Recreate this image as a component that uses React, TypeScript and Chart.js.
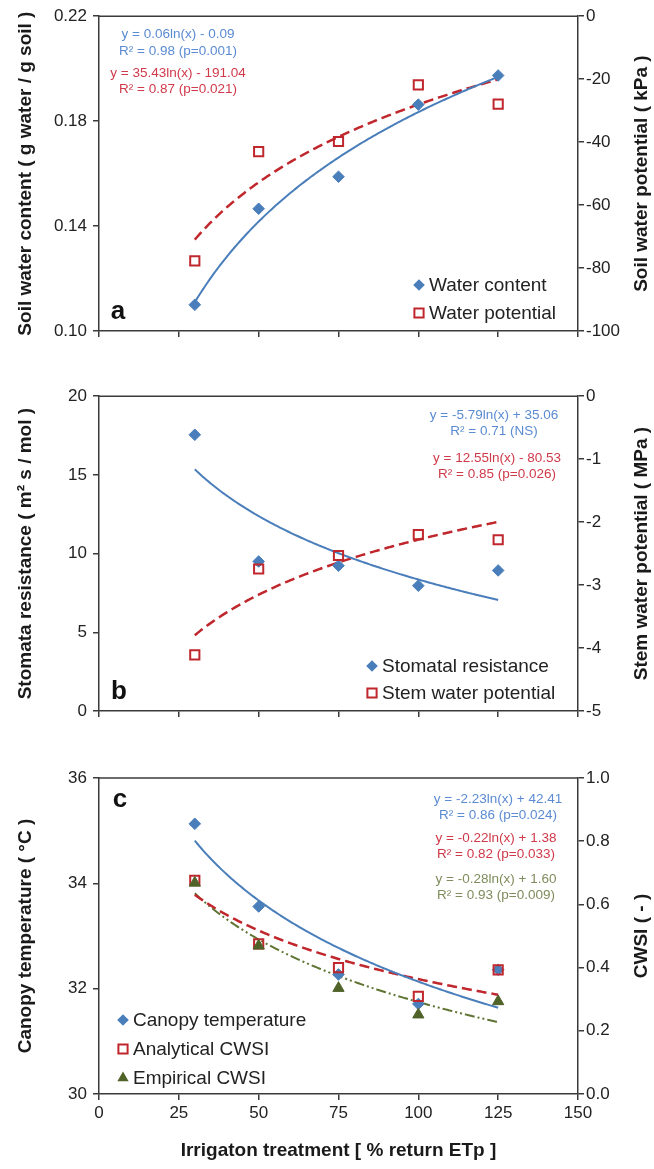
import React, { useEffect, useRef } from 'react';
import { Chart, registerables } from 'chart.js';

Chart.register(...registerables);

// ---------- data ----------
const xTreat = [30, 50, 75, 100, 125];
const xTicks = [0, 25, 50, 75, 100, 125, 150];

const waterContent = [0.110, 0.1466, 0.1588, 0.1863, 0.1974];
const waterPotential = [-77.7, -43.0, -39.8, -21.8, -27.9];

const stomatalRes = [17.55, 9.5, 9.23, 7.96, 8.93];
const stemPotential = [-4.11, -2.745, -2.53, -2.2, -2.28];

const canopyTemp = [35.13, 33.56, 32.27, 31.71, 32.36];
const analyticalCWSI = [0.676, 0.475, 0.4, 0.309, 0.393];
const empiricalCWSI = [0.668, 0.469, 0.335, 0.251, 0.293];

const eqA = ['y = 0.06ln(x) - 0.09', 'R² = 0.98 (p=0.001)', 'y = 35.43ln(x) - 191.04', 'R² = 0.87 (p=0.021)'];
const eqB = ['y = -5.79ln(x) + 35.06', 'R² = 0.71 (NS)', 'y = 12.55ln(x) - 80.53', 'R² = 0.85 (p=0.026)'];
const eqC = ['y = -2.23ln(x) + 42.41', 'R² = 0.86 (p=0.024)', 'y = -0.22ln(x) + 1.38', 'R² = 0.82 (p=0.033)', 'y = -0.28ln(x) + 1.60', 'R² = 0.93 (p=0.009)'];

// ---------- style ----------
const FONT = "'Liberation Sans', Arial, Helvetica, sans-serif";
const AXIS = '#3a3a3a';
const BLUE = '#4A7EBB';
const RED = '#C0272D';
const OLIVE = '#4F6228';
const OLIVE_LINE = '#5F7432';
const T_BLUE = '#5B8BD2';
const T_RED = '#D0394A';
const T_OLIVE = '#7F8C5C';

function fitLog(xs: number[], ys: number[]) {
  const lx = xs.map((x) => Math.log(x));
  const n = xs.length;
  const mx = lx.reduce((s, v) => s + v, 0) / n;
  const my = ys.reduce((s, v) => s + v, 0) / n;
  let sxy = 0, sxx = 0;
  for (let i = 0; i < n; i++) {
    sxy += (lx[i] - mx) * (ys[i] - my);
    sxx += (lx[i] - mx) * (lx[i] - mx);
  }
  const a = sxy / sxx;
  return { a, b: my - a * mx };
}

function trend(xs: number[], ys: number[]) {
  const { a, b } = fitLog(xs, ys);
  const pts: { x: number; y: number }[] = [];
  const x0 = xs[0], x1 = xs[xs.length - 1];
  for (let x = x0; x <= x1 + 1e-9; x += 0.5) pts.push({ x, y: a * Math.log(x) + b });
  return pts;
}

type Marker = 'diamond' | 'square' | 'triangle';
type Series = {
  label: string; data: number[]; axis: 'y' | 'y1'; marker: Marker; color: string;
  lineColor: string; dash: number[]; lw: number;
};
type Panel = {
  top: number; height: number; areaTop: number; areaBottom: number;
  yl: { min: number; max: number; step: number; dec: number; title: string };
  yr: { min: number; max: number; step: number; dec: number; title: string };
  showX: boolean;
  series: Series[];
  notes: { text: string; color: string; cx: number; dy: number }[];
  legendX: number; legendDy: number[];
  letter: { text: string; x: number; from: 'top' | 'bottom'; dy: number };
};

const LEFT_W = 99;
const RIGHT_X = 578;
const W = 654;

const panels: Panel[] = [
  {
    top: 0, height: 380, areaTop: 15, areaBottom: 331,
    yl: { min: 0.1, max: 0.22, step: 0.04, dec: 2, title: 'Soil water content ( g water / g soil )' },
    yr: { min: -100, max: 0, step: 20, dec: 0, title: 'Soil water potential ( kPa )' },
    showX: false,
    series: [
      { label: 'Water content', data: waterContent, axis: 'y', marker: 'diamond', color: BLUE, lineColor: BLUE, dash: [], lw: 2 },
      { label: 'Water potential', data: waterPotential, axis: 'y1', marker: 'square', color: RED, lineColor: RED, dash: [10, 5], lw: 2.5 },
    ],
    notes: [
      { text: eqA[0], color: T_BLUE, cx: 178, dy: 18 },
      { text: eqA[1], color: T_BLUE, cx: 178, dy: 35 },
      { text: eqA[2], color: T_RED, cx: 178, dy: 57 },
      { text: eqA[3], color: T_RED, cx: 178, dy: 73 },
    ],
    legendX: 419, legendDy: [-46, -18],
    letter: { text: 'a', x: 118, from: 'bottom', dy: -19 },
  },
  {
    top: 380, height: 380, areaTop: 15, areaBottom: 331,
    yl: { min: 0, max: 20, step: 5, dec: 0, title: 'Stomata resistance ( m² s / mol )' },
    yr: { min: -5, max: 0, step: 1, dec: 0, title: 'Stem water potential ( MPa )' },
    showX: false,
    series: [
      { label: 'Stomatal resistance', data: stomatalRes, axis: 'y', marker: 'diamond', color: BLUE, lineColor: BLUE, dash: [], lw: 2 },
      { label: 'Stem water potential', data: stemPotential, axis: 'y1', marker: 'square', color: RED, lineColor: RED, dash: [10, 5], lw: 2.5 },
    ],
    notes: [
      { text: eqB[0], color: T_BLUE, cx: 494, dy: 19 },
      { text: eqB[1], color: T_BLUE, cx: 494, dy: 35 },
      { text: eqB[2], color: T_RED, cx: 497, dy: 62 },
      { text: eqB[3], color: T_RED, cx: 497, dy: 78 },
    ],
    legendX: 372, legendDy: [-45, -18],
    letter: { text: 'b', x: 119, from: 'bottom', dy: -19 },
  },
  {
    top: 760, height: 409, areaTop: 18, areaBottom: 334,
    yl: { min: 30, max: 36, step: 2, dec: 0, title: 'Canopy temperature ( °C )' },
    yr: { min: 0, max: 1, step: 0.2, dec: 1, title: 'CWSI ( - )' },
    showX: true,
    series: [
      { label: 'Canopy temperature', data: canopyTemp, axis: 'y', marker: 'diamond', color: BLUE, lineColor: BLUE, dash: [], lw: 2 },
      { label: 'Analytical CWSI', data: analyticalCWSI, axis: 'y1', marker: 'square', color: RED, lineColor: RED, dash: [10, 5], lw: 2.5 },
      { label: 'Empirical CWSI', data: empiricalCWSI, axis: 'y1', marker: 'triangle', color: OLIVE, lineColor: OLIVE_LINE, dash: [10, 3, 2, 3, 2, 3], lw: 2 },
    ],
    notes: [
      { text: eqC[0], color: T_BLUE, cx: 498, dy: 21 },
      { text: eqC[1], color: T_BLUE, cx: 498, dy: 37 },
      { text: eqC[2], color: T_RED, cx: 496, dy: 60 },
      { text: eqC[3], color: T_RED, cx: 496, dy: 76 },
      { text: eqC[4], color: T_OLIVE, cx: 496, dy: 101 },
      { text: eqC[5], color: T_OLIVE, cx: 496, dy: 117 },
    ],
    legendX: 123, legendDy: [-74, -45, -16],
    letter: { text: 'c', x: 120, from: 'top', dy: 22 },
  },
];

function drawMarker(ctx: CanvasRenderingContext2D, m: Marker, color: string, x: number, y: number) {
  ctx.save();
  ctx.beginPath();
  if (m === 'diamond') {
    const r = 5.8;
    ctx.moveTo(x - r, y); ctx.lineTo(x, y - r); ctx.lineTo(x + r, y); ctx.lineTo(x, y + r);
    ctx.closePath();
    ctx.fillStyle = color; ctx.fill();
  } else if (m === 'square') {
    const h = 4.6;
    ctx.rect(x - h, y - h, 2 * h, 2 * h);
    ctx.fillStyle = '#fff'; ctx.fill();
    ctx.lineWidth = 2; ctx.strokeStyle = color; ctx.stroke();
  } else {
    const r = 6.5;
    ctx.moveTo(x, y - r);
    ctx.lineTo(x + r * Math.sin((2 * Math.PI) / 3), y - r * Math.cos((2 * Math.PI) / 3));
    ctx.lineTo(x + r * Math.sin((4 * Math.PI) / 3), y - r * Math.cos((4 * Math.PI) / 3));
    ctx.closePath();
    ctx.fillStyle = color; ctx.fill();
  }
  ctx.restore();
}

const decorPlugin = {
  id: 'panelDecor',
  afterDraw(chart: any) {
    const p: Panel = chart.options.plugins.panelDecor.panel;
    const ctx: CanvasRenderingContext2D = chart.ctx;
    const a = chart.chartArea;
    ctx.save();
    // top frame line
    ctx.strokeStyle = AXIS;
    ctx.lineWidth = 1.5;
    ctx.beginPath();
    ctx.moveTo(a.left, a.top);
    ctx.lineTo(a.right, a.top);
    ctx.stroke();

    // right title, reading bottom-to-top
    ctx.save();
    ctx.translate(642, (a.top + a.bottom) / 2);
    ctx.rotate(-Math.PI / 2);
    ctx.font = `bold 19px ${FONT}`;
    ctx.fillStyle = '#1a1a1a';
    ctx.textAlign = 'center';
    ctx.textBaseline = 'middle';
    ctx.fillText(p.yr.title, 0, 0);
    ctx.restore();

    // equations
    ctx.font = `13.5px ${FONT}`;
    ctx.textAlign = 'center';
    ctx.textBaseline = 'middle';
    p.notes.forEach((n) => {
      ctx.fillStyle = n.color;
      ctx.fillText(n.text, n.cx, a.top + n.dy);
    });

    // legend
    ctx.font = `19px ${FONT}`;
    ctx.textAlign = 'left';
    ctx.textBaseline = 'middle';
    p.series.forEach((s, i) => {
      const y = a.bottom + p.legendDy[i];
      drawMarker(ctx, s.marker, s.color, p.legendX, y);
      ctx.fillStyle = '#222';
      ctx.fillText(s.label, p.legendX + 10, y + 1);
    });

    // panel letter
    ctx.font = `bold 26px ${FONT}`;
    ctx.fillStyle = '#111';
    ctx.textAlign = 'center';
    ctx.textBaseline = 'middle';
    const ly = p.letter.from === 'top' ? a.top + p.letter.dy : a.bottom + p.letter.dy;
    ctx.fillText(p.letter.text, p.letter.x, ly);
    ctx.restore();
  },
};

function buildConfig(p: Panel): any {
  const datasets: any[] = [];
  p.series.forEach((s, i) => {
    datasets.push({
      label: s.label + ' trend',
      data: trend(xTreat, s.data),
      yAxisID: s.axis,
      showLine: true,
      borderColor: s.lineColor,
      borderWidth: s.lw,
      borderDash: s.dash,
      pointRadius: 0,
      fill: false,
      order: 10 + i,
    });
  });
  p.series.forEach((s, i) => {
    const base: any = {
      label: s.label,
      data: xTreat.map((x, k) => ({ x, y: s.data[k] })),
      yAxisID: s.axis,
      showLine: false,
      order: 5 - i,
    };
    if (s.marker === 'diamond') {
      Object.assign(base, { pointStyle: 'rectRot', pointRadius: 5.8, backgroundColor: s.color, borderColor: s.color, borderWidth: 1 });
    } else if (s.marker === 'square') {
      Object.assign(base, { pointStyle: 'rect', pointRadius: 6.5, backgroundColor: 'rgba(0,0,0,0)', borderColor: s.color, borderWidth: 2 });
    } else {
      Object.assign(base, { pointStyle: 'triangle', pointRadius: 6.5, backgroundColor: s.color, borderColor: s.color, borderWidth: 1 });
    }
    datasets.push(base);
  });

  const grid = { drawOnChartArea: false, drawTicks: true, tickLength: 6, color: AXIS, lineWidth: 1.5 };
  const border = { display: true, color: AXIS, width: 1.5 };
  const tickFont = { family: FONT, size: 17 };

  return {
    type: 'scatter',
    data: { datasets },
    plugins: [decorPlugin],
    options: {
      animation: false,
      responsive: false,
      maintainAspectRatio: false,
      events: [],
      layout: { padding: { top: p.areaTop, left: 0, right: 0, bottom: 0 } },
      plugins: {
        legend: { display: false },
        tooltip: { enabled: false },
        panelDecor: { panel: p },
      },
      scales: {
        x: {
          type: 'linear',
          position: 'bottom',
          min: 0, max: 150,
          afterBuildTicks: (scale: any) => { scale.ticks = xTicks.map((v) => ({ value: v })); },
          ticks: {
            display: p.showX,
            font: tickFont, color: '#222', padding: 3,
            callback: (v: any) => String(v),
          },
          grid, border,
          title: p.showX
            ? { display: true, text: 'Irrigaton treatment [ % return ETp ]', font: { family: FONT, size: 19, weight: 'bold' }, color: '#1a1a1a', padding: { top: 0, bottom: 7 } }
            : { display: false },
          afterFit: (scale: any) => { scale.height = p.height - p.areaBottom; },
        },
        y: {
          type: 'linear',
          position: 'left',
          min: p.yl.min, max: p.yl.max,
          ticks: { stepSize: p.yl.step, font: tickFont, color: '#222', padding: 6, callback: (v: any) => Number(v).toFixed(p.yl.dec) },
          grid, border,
          title: { display: true, text: p.yl.title, font: { family: FONT, size: 19, weight: 'bold' }, color: '#1a1a1a', padding: { top: 14, bottom: 0 } },
          afterFit: (scale: any) => { scale.width = LEFT_W; },
        },
        y1: {
          type: 'linear',
          position: 'right',
          min: p.yr.min, max: p.yr.max,
          ticks: { stepSize: p.yr.step, font: tickFont, color: '#222', padding: 2, callback: (v: any) => Number(v).toFixed(p.yr.dec) },
          grid, border,
          title: { display: false },
          afterFit: (scale: any) => { scale.width = W - RIGHT_X; },
        },
      },
    },
  };
}

function PanelChart({ p }: { p: Panel }) {
  const ref = useRef<HTMLCanvasElement | null>(null);
  useEffect(() => {
    if (!ref.current) return;
    const chart = new Chart(ref.current, buildConfig(p));
    return () => chart.destroy();
  }, [p]);
  return (
    <canvas
      ref={ref}
      width={W}
      height={p.height}
      style={{ position: 'absolute', left: 0, top: p.top, width: W, height: p.height }}
    />
  );
}

export default function App() {
  return (
    <div style={{ position: 'absolute', left: 0, top: 0, width: W, height: 1169, background: '#fff', overflow: 'hidden' }}>
      {panels.map((p, i) => (
        <PanelChart key={i} p={p} />
      ))}
    </div>
  );
}
